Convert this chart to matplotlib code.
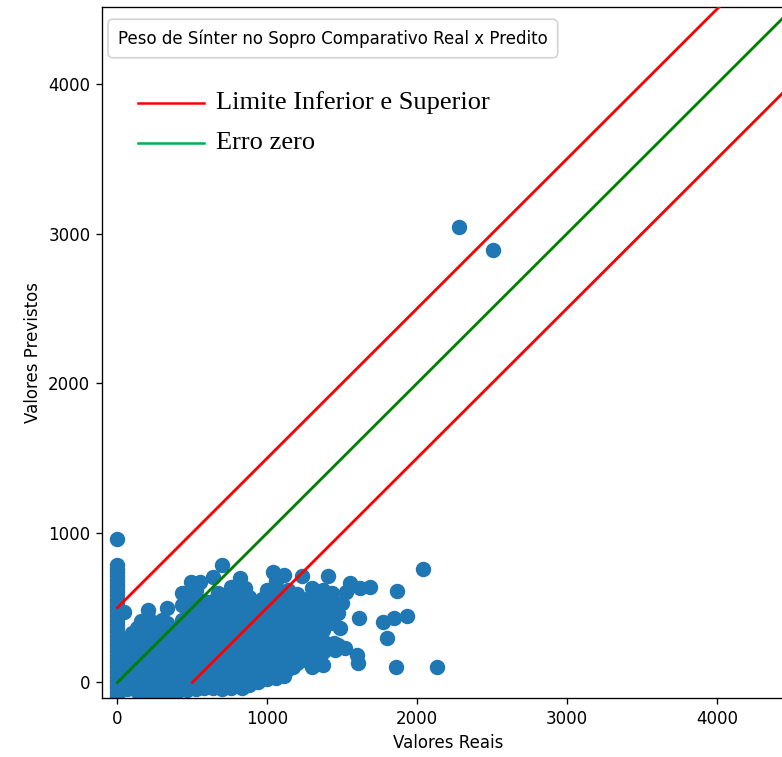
import matplotlib
matplotlib.use("Agg")
import matplotlib.pyplot as plt
from matplotlib.lines import Line2D

# ---------------- data ----------------
# predictions for samples whose real value is 0
zero_real_pred = [960, 785, 760, 735, 710, 685, 660, 635, 610, 585, 560, 535, 510,
                  485, 460, 435, 410, 385, 360, 335, 310, 285, 260, 235, 210, 185,
                  160, 135, 110, 85, 60, 35, 10, -15, -40, -65, -90, -115, -140]

# main cloud, grouped by real value (x) -> predicted values (y)
cloud_real = [45, 62, 95, 128, 160, 192, 205, 228, 262, 295, 333, 362, 396, 428,
              462, 490, 522, 548, 578, 606, 640, 668, 700, 728, 758, 790, 815,
              831, 848, 878, 905, 935, 965, 995, 1025, 1040, 1055, 1085, 1110,
              1140, 1170, 1200, 1232, 1262, 1300, 1335, 1370, 1406]
cloud_pred = [
    [470],
    [-45, 20, 85, 150, 215, 280],
    [-20, 45, 110, 175, 240, 330],
    [-60, 5, 70, 135, 200, 265, 364],
    [-30, 35, 100, 165, 230, 295, 410],
    [-65, 0, 65, 130, 195, 260, 325],
    [485, 440],
    [-40, 25, 90, 155, 220, 285, 350],
    [-70, -5, 60, 125, 190, 255, 320, 400],
    [-35, 30, 95, 160, 225, 290, 355, 420],
    [-60, 5, 70, 135, 200, 265, 330, 400, 498],
    [-30, 35, 100, 165, 230, 295, 360],
    [-61, 0, 65, 130, 195, 260, 325],
    [-35, 30, 95, 160, 225, 290, 355, 420, 520, 598],
    [-50, 15, 80, 145, 210, 275, 340, 405, 470, 535, 600],
    [-20, 45, 110, 175, 240, 305, 370, 435, 500, 560, 672],
    [-45, 20, 85, 150, 215, 280, 345, 410, 475, 540, 620],
    [-15, 50, 115, 180, 245, 310, 375, 440, 505, 672],
    [-40, 25, 90, 155, 220, 285, 350, 415, 480, 545],
    [-10, 55, 120, 185, 250, 315, 380, 445, 510],
    [-40, 25, 90, 155, 220, 285, 350, 415, 480, 545, 705],
    [-10, 55, 120, 185, 250, 315, 380, 445, 510, 600],
    [-45, 20, 85, 150, 215, 280, 345, 410, 475, 540, 785],
    [-15, 50, 115, 180, 245, 310, 375, 440, 505, 570],
    [-40, 25, 90, 155, 220, 285, 350, 415, 480, 545, 640],
    [-5, 60, 125, 190, 255, 320, 385, 450, 515, 580],
    [-20, 45, 110, 175, 240, 305, 370, 435, 500, 565, 698],
    [-37],
    [10, 75, 140, 205, 270, 335, 400, 465, 530, 630],
    [-15, 50, 115, 180, 245, 310, 375, 440, 505, 570],
    [20, 85, 150, 215, 280, 345, 410, 475, 540],
    [5, 70, 135, 200, 265, 330, 395, 460, 525],
    [40, 105, 170, 235, 300, 365, 430, 495, 560],
    [20, 85, 150, 215, 280, 345, 410, 475, 540, 620],
    [55, 120, 185, 250, 315, 380, 445, 510, 580],
    [739],
    [30, 95, 160, 225, 290, 355, 420, 485, 550, 680],
    [70, 135, 200, 265, 330, 395, 460, 525, 600],
    [45, 110, 175, 240, 305, 370, 435, 500, 565, 717],
    [90, 155, 220, 285, 350, 415, 480, 545, 620],
    [104, 165, 230, 295, 360, 425, 490, 555],
    [130, 195, 260, 325, 390, 455, 520, 590],
    [150, 215, 280, 345, 410, 475, 540, 712],
    [238, 300, 365, 430, 495, 560],
    [100, 170, 240, 310, 380, 450, 520, 631],
    [217, 290, 360, 431, 598],
    [117, 206, 280, 350, 420, 490, 560, 620],
    [712],
]

# sparse points to the right of the cloud and the two high outliers
sparse_real = [2037, 1866, 1686, 1619, 1552, 1525, 1497, 1473, 1613, 1770, 1846,
               1931, 1797, 1486, 1446, 1519, 1598, 1607, 1859, 2133, 1430, 1440,
               1420, 1440, 1453, 1470, 2280, 2506]
sparse_pred = [757, 612, 640, 631, 665, 605, 533, 465, 431, 406, 431,
               445, 300, 364, 266, 231, 184, 130, 106, 106, 600, 540,
               480, 400, 218, 250, 3045, 2891]

limit = 500          # +/- tolerance band
line_end = 5000      # reference lines run beyond the visible range

# ---------------- assemble ----------------
real = [0] * len(zero_real_pred)
pred = list(zero_real_pred)
for xv, ys in zip(cloud_real, cloud_pred):
    real += [xv] * len(ys)
    pred += ys
real += sparse_real
pred += sparse_pred

# ---------------- figure ----------------
W, H, DPI = 782, 757, 120
fig = plt.figure(figsize=(W / DPI, H / DPI), dpi=DPI)
ax = fig.add_axes([102 / W, 1 - 698 / H, (794 - 102) / W, (698 - 7) / H])

ax.scatter(real, pred, s=68, color="#1f77b4", zorder=2)
ax.plot([0, line_end], [limit, line_end + limit], color="red", lw=1.7, zorder=3)
ax.plot([limit, line_end], [0, line_end - limit], color="red", lw=1.7, zorder=3)
ax.plot([0, line_end], [0, line_end], color="green", lw=1.7, zorder=3)

ax.set_xlim(-103, 4515)
ax.set_ylim(-104, 4515)
ax.set_xticks([0, 1000, 2000, 3000, 4000])
ax.set_yticks([0, 1000, 2000, 3000, 4000])
ax.set_xlabel("Valores Reais", fontsize=10)
ax.set_ylabel("Valores Previstos", fontsize=10)
ax.tick_params(labelsize=10)
ax.spines["right"].set_visible(False)

# title box (legend-like)
ax.text(0.0231, 0.9544, "Peso de Sínter no Sopro Comparativo Real x Predito",
        transform=ax.transAxes, ha="left", va="center", fontsize=10,
        family="DejaVu Sans", zorder=5,
        bbox=dict(boxstyle="round,pad=0.6,rounding_size=0.3", facecolor="white",
                  edgecolor="#d0d0d0", linewidth=1.0, alpha=0.9))

# legend entries (serif)
def ax_frac(px, py):
    return (px - 102) / (794 - 102), 1 - (py - 7) / (698 - 7)

entries = [("Limite Inferior e Superior", "red", 103),
           ("Erro zero", "#00b050", 143)]
for label, col, py in entries:
    x0, y0 = ax_frac(138, py)
    x1, _ = ax_frac(204, py)
    xt, _ = ax_frac(216, py)
    ax.add_line(Line2D([x0, x1], [y0, y0], color=col, lw=1.5,
                       transform=ax.transAxes, zorder=5))
    ax.text(xt, y0, label, transform=ax.transAxes, ha="left", va="center",
            fontsize=15.8, family="Liberation Serif", zorder=5)

fig.savefig("out.png", dpi=DPI)
